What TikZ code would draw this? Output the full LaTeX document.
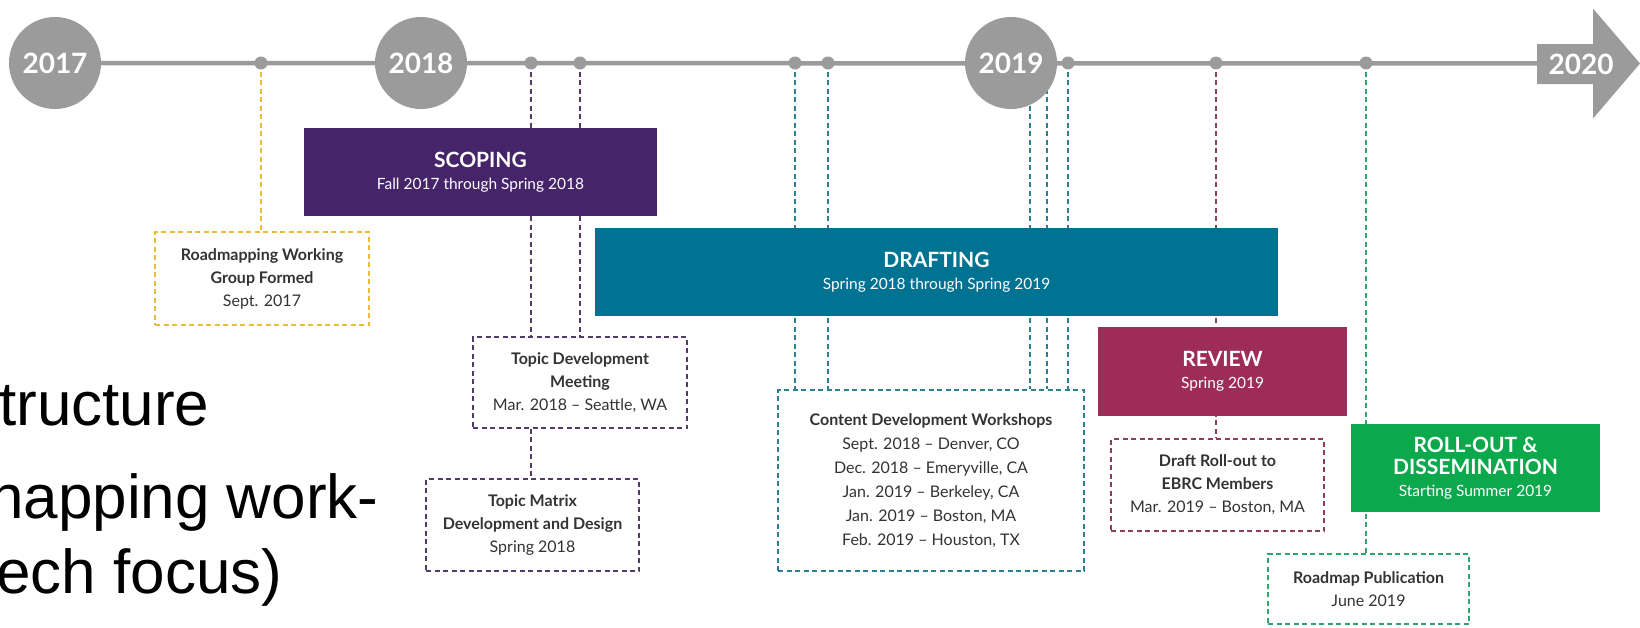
\documentclass[tikz,border=0pt]{standalone}
\usepackage{fontspec}
\setmainfont{Lato}
\newfontfamily\slidefont{Liberation Sans}
\usetikzlibrary{backgrounds}
\definecolor{tlgray}{HTML}{9B9B9B}
\definecolor{scopeC}{HTML}{46246A}
\definecolor{draftC}{HTML}{007392}
\definecolor{reviewC}{HTML}{9D2D58}
\definecolor{rollC}{HTML}{0BA84C}
\definecolor{yelD}{HTML}{EDBA3A}
\definecolor{purD}{HTML}{4F3C68}
\definecolor{tealD}{HTML}{2C7F95}
\definecolor{revD}{HTML}{8E3D62}
\definecolor{grnD}{HTML}{2FA56C}
\definecolor{txtC}{HTML}{333333}
\newcommand\phasetitle[1]{{\bfseries\fontsize{21}{22}\selectfont #1}}
\newcommand\evtitle[1]{{\bfseries #1}}
\tikzset{
 phase/.style={fill=#1, text=white, align=center, inner sep=0pt, font=\fontsize{15.5}{22}\selectfont},
 evbox/.style={draw=#1, fill=white, line width=1.8pt, dash pattern=on 5pt off 3.5pt, text=txtC, align=center, inner sep=0pt, font=\fontsize{16}{23}\selectfont},
 conn/.style={draw=#1, line width=1.8pt, dash pattern=on 5pt off 3.5pt},
 year/.style={circle, fill=tlgray, minimum size=92pt, inner sep=0pt, text=white, font=\bfseries\fontsize{28}{28}\selectfont},
 tdot/.style={circle, fill=tlgray, minimum size=13pt, inner sep=0pt},
 slide/.style={anchor=base west, inner sep=0pt, font=\slidefont\fontsize{62}{72}\selectfont}
}
\begin{document}
\begin{tikzpicture}[x=1pt,y=-1pt]
\useasboundingbox (0,0) rectangle (1640,627);
% timeline arrow shape
\fill[tlgray] (1537,44) -- (1593,44) -- (1593,8.5) -- (1640,63.5) -- (1593,118.5) -- (1593,84) -- (1537,84) -- cycle;
\node[text=white, font=\bfseries\fontsize{28}{28}\selectfont, inner sep=0pt] (y2020) at (1581,64) {2020};
% year circles
\node[year] (y2017) at (55,63) {2017};
\node[year] (y2018) at (421,63) {2018};
\node[year] (y2019) at (1011,63) {2019};
% dots
\node[tdot] (d261) at (261,63) {};
\node[tdot] (d531) at (531,63) {};
\node[tdot] (d580) at (580,63) {};
\node[tdot] (d795) at (795,63) {};
\node[tdot] (d828) at (828,63) {};
\node[tdot] (d1068) at (1068,63) {};
\node[tdot] (d1216) at (1216,63) {};
\node[tdot] (d1366) at (1366,63) {};
\coordinate (h1030) at (1030,63);
\coordinate (h1047) at (1047,63);
% phase boxes
\node[phase=scopeC, minimum width=353pt, minimum height=88pt] (scope) at (480.5,172) {\phasetitle{SCOPING}\\Fall 2017 through Spring 2018};
\node[phase=draftC, minimum width=683pt, minimum height=88pt] (draft) at (936.5,272) {\phasetitle{DRAFTING}\\Spring 2018 through Spring 2019};
\node[phase=reviewC, minimum width=249pt, minimum height=89pt] (review) at (1222.5,371.5) {\phasetitle{REVIEW}\\Spring 2019};
\node[phase=rollC, minimum width=249pt, minimum height=88pt] (roll) at (1475.5,468) {\phasetitle{ROLL-OUT \&}\\\phasetitle{DISSEMINATION}\\Starting Summer 2019};
% event boxes
\node[evbox=yelD, minimum width=214pt, minimum height=93pt] (rwg) at (262,278.5) {\evtitle{Roadmapping Working}\\\evtitle{Group Formed}\\Sept. 2017};
\node[evbox=purD, minimum width=214pt, minimum height=91pt] (tdm) at (580,382.5) {\evtitle{Topic Development}\\\evtitle{Meeting}\\Mar. 2018 – Seattle, WA};
\node[evbox=purD, minimum width=213pt, minimum height=92pt] (tm) at (532.5,525) {\evtitle{Topic Matrix}\\\evtitle{Development and Design}\\Spring 2018};
\node[evbox=tealD, minimum width=306pt, minimum height=181pt, font=\fontsize{16}{24}\selectfont] (cdw) at (931,480.5) {\evtitle{Content Development Workshops}\\Sept. 2018 – Denver, CO\\Dec. 2018 – Emeryville, CA\\Jan. 2019 – Berkeley, CA\\Jan. 2019 – Boston, MA\\Feb. 2019 – Houston, TX};
\node[evbox=revD, minimum width=213pt, minimum height=92pt] (dro) at (1217.5,485) {\evtitle{Draft Roll-out to}\\\evtitle{EBRC Members}\\Mar. 2019 – Boston, MA};
\node[evbox=grnD, minimum width=201pt, minimum height=70pt] (pub) at (1368.5,589) {\evtitle{Roadmap Publication}\\June 2019};
% slide text
\node[slide] (s1) at (-1,425) {tructure};
\node[slide] (s2) at (-11,518) {napping work-};
\node[slide] (s3) at (-4,593) {ech focus)};
\begin{pgfonlayer}{background}
\draw[conn=yelD] (d261.center) -- (d261 |- rwg.north);
\draw[conn=purD] (d531.center) -- (d531 |- tm.north);
\draw[conn=purD] (d580.center) -- (d580 |- tdm.north);
\draw[conn=tealD] (d795.center) -- (d795 |- cdw.north);
\draw[conn=tealD] (d828.center) -- (d828 |- cdw.north);
\draw[conn=tealD] (h1030) -- (h1030 |- cdw.north);
\draw[conn=tealD] (h1047) -- (h1047 |- cdw.north);
\draw[conn=tealD] (d1068.center) -- (d1068 |- cdw.north);
\draw[conn=revD] (d1216.center) -- (d1216 |- dro.north);
\draw[conn=grnD] (d1366.center) -- (d1366 |- pub.north);
\draw[tlgray, line width=4.5pt] (y2017.center) -- (1560,63.5);
\end{pgfonlayer}
\end{tikzpicture}
\end{document}
